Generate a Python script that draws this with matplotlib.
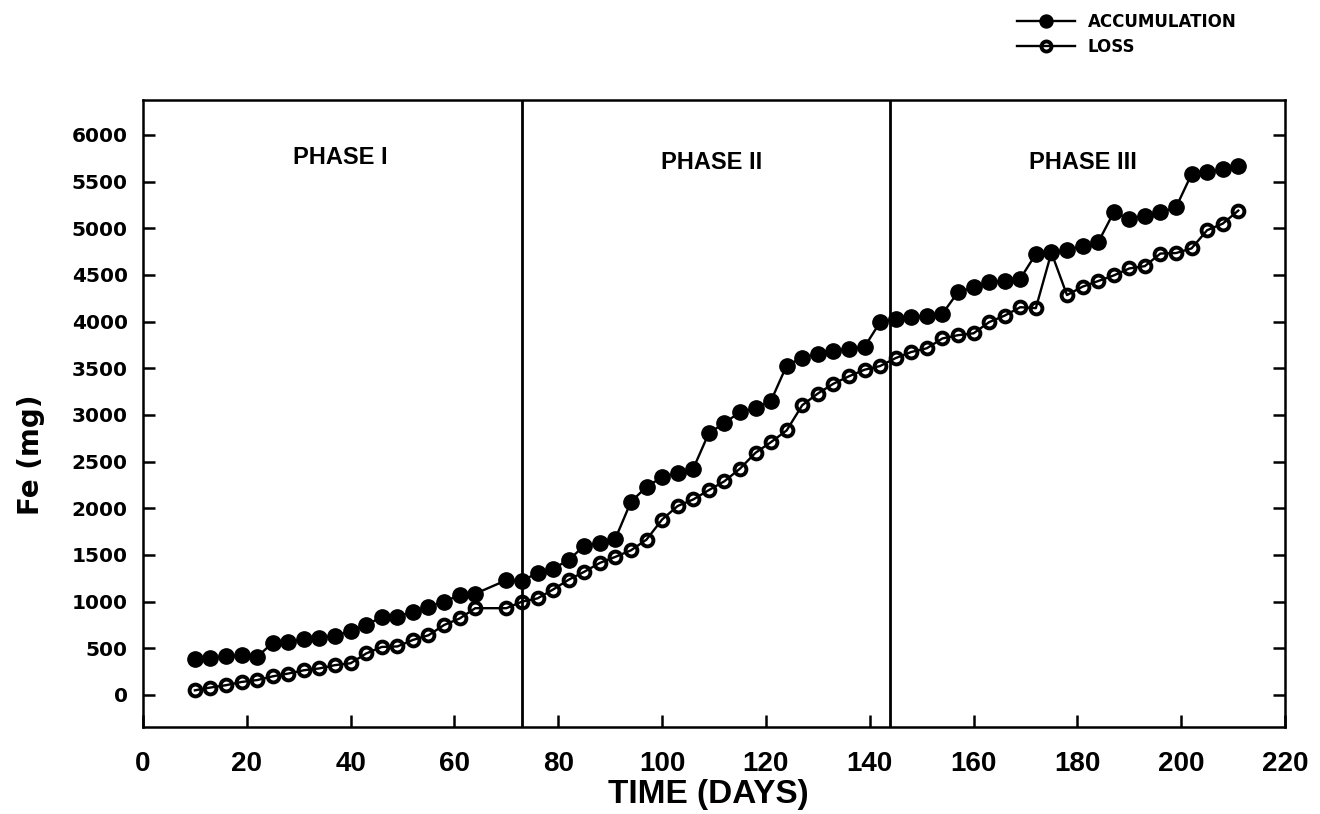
import matplotlib
matplotlib.use('Agg')
import matplotlib.pyplot as plt
import matplotlib.font_manager as fm

# sampling days (no sample on day 67)
days = [10, 13, 16, 19, 22, 25, 28, 31, 34, 37, 40, 43, 46, 49, 52, 55, 58, 61, 64,
        70, 73, 76, 79, 82, 85, 88, 91, 94, 97, 100, 103, 106, 109, 112, 115, 118,
        121, 124, 127, 130, 133, 136, 139, 142, 145, 148, 151, 154, 157, 160, 163,
        166, 169, 172, 175, 178, 181, 184, 187, 190, 193, 196, 199, 202, 205, 208, 211]

accumulation = [385, 400, 415, 425, 410, 560, 570, 595, 615, 630, 690, 750, 835, 840,
                890, 945, 1000, 1070, 1085,
                1230, 1220, 1310, 1355, 1445, 1600, 1630, 1675, 2070, 2230, 2335, 2380,
                2425, 2805, 2915, 3030, 3075, 3155, 3530, 3615, 3655, 3685, 3710, 3730,
                3995, 4025, 4050, 4060, 4085, 4315, 4370, 4420, 4440, 4460, 4725, 4745,
                4765, 4815, 4850, 5170, 5105, 5135, 5170, 5225, 5580, 5600, 5635, 5670]

loss = [50, 80, 105, 140, 160, 200, 230, 265, 285, 320, 340, 445, 515, 520, 590, 640,
        750, 820, 930,
        930, 1000, 1035, 1130, 1235, 1320, 1415, 1480, 1550, 1665, 1880, 2025, 2095,
        2195, 2290, 2425, 2595, 2710, 2835, 3105, 3230, 3335, 3415, 3485, 3525, 3610,
        3675, 3715, 3820, 3855, 3875, 3995, 4065, 4155, 4145, 4740, 4285, 4375, 4435,
        4495, 4570, 4595, 4730, 4735, 4785, 4980, 5050, 5190]

phase_bounds = [73, 144]
phase_names = ['PHASE I', 'PHASE II', 'PHASE III']
phase_pos = [(38, 5760), (109.5, 5700), (181, 5700)]

xticks = list(range(0, 221, 20))
yticks = list(range(0, 6001, 500))

names = {f.name for f in fm.fontManager.ttflist}
helv = 'Liberation Sans' if 'Liberation Sans' in names else 'DejaVu Sans'

W, H = 1320, 814
fig = plt.figure(figsize=(W / 100, H / 100), dpi=100)
ax = fig.add_axes([143 / W, 1 - 727 / H, (1285 - 143) / W, (727 - 100) / H])

acc_line, = ax.plot(days, accumulation, '-o', color='black', lw=1.7, ms=11,
                    mfc='black', mec='black', mew=1, zorder=4, label='ACCUMULATION')
loss_line, = ax.plot(days, loss, '-o', color='black', lw=1.7, ms=8.5,
                     mfc='none', mec='black', mew=2.8, zorder=3, label='LOSS')

for b in phase_bounds:
    ax.axvline(b, color='black', lw=2.0, zorder=2)

for name, (px, py) in zip(phase_names, phase_pos):
    ax.text(px, py, name, ha='center', va='center', fontsize=17,
            fontweight='bold', family=helv)

ax.set_xlim(0, 220)
ax.set_ylim(-343, 6375)
ax.set_xticks(xticks)
ax.set_yticks(yticks)
ax.tick_params(direction='in', length=8.5, width=1.8, right=True, top=False)
ax.tick_params(axis='y', pad=11)
ax.tick_params(axis='x', pad=17)
for lbl in ax.get_yticklabels():
    lbl.set_fontsize(14.5)
    lbl.set_fontweight('bold')
    lbl.set_family('DejaVu Sans')
for lbl in ax.get_xticklabels():
    lbl.set_fontsize(20)
    lbl.set_fontweight('bold')
    lbl.set_family(helv)
for s in ax.spines.values():
    s.set_linewidth(1.8)

fig.text(708 / W, 1 - 794 / H, 'TIME (DAYS)', ha='center', va='center',
         fontsize=24, fontweight='bold', family=helv)
fig.text(31 / W, 1 - 455 / H, 'Fe (mg)', ha='center', va='center', rotation=90,
         fontsize=20, fontweight='bold', family='DejaVu Sans')

ax.legend(handles=[acc_line, loss_line], loc='upper left',
          bbox_to_anchor=(1017 / W, 1 - 13 / H), bbox_transform=fig.transFigure,
          frameon=False, borderpad=0, borderaxespad=0, numpoints=1,
          handlelength=3.5, handletextpad=0.75, labelspacing=0.4, markerscale=0.85,
          prop={'family': 'DejaVu Sans', 'weight': 'bold', 'size': 12})

fig.savefig('out.png', dpi=100)
